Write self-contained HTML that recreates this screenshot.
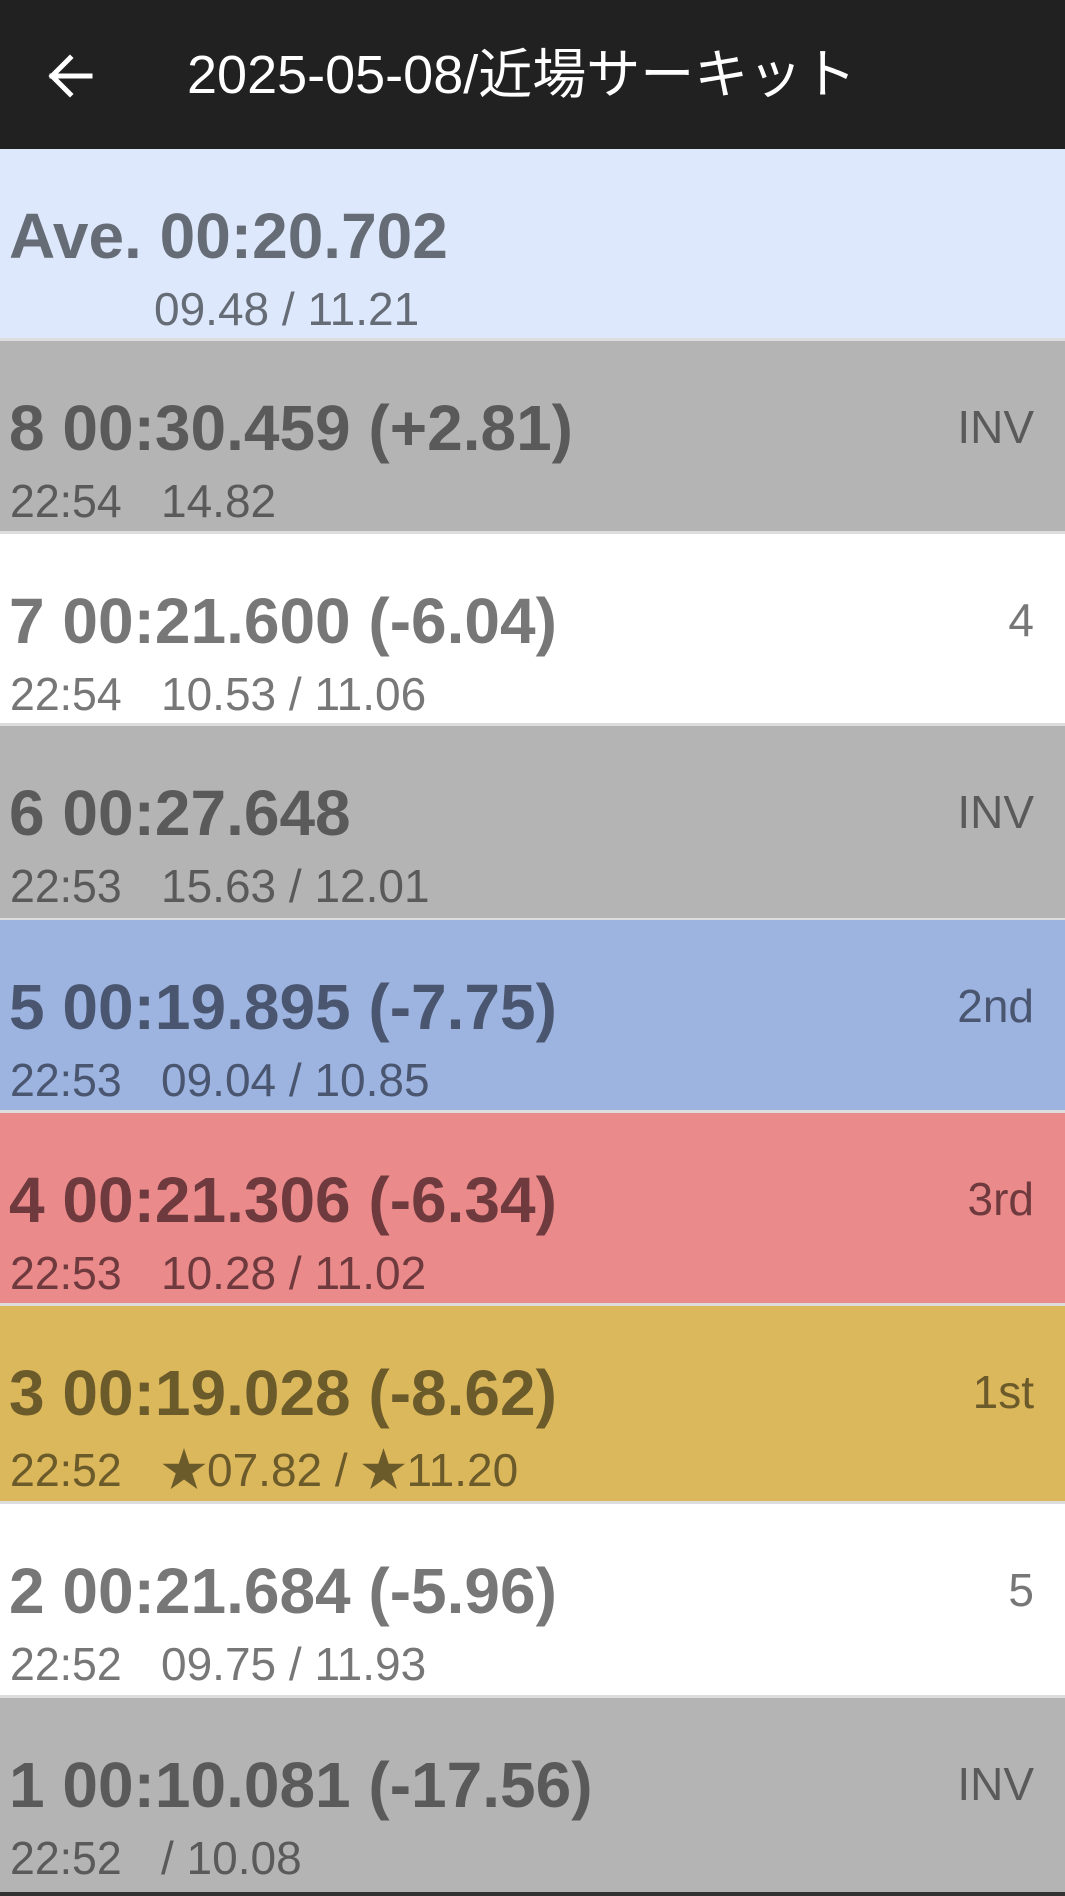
<!DOCTYPE html>
<html><head><meta charset="utf-8">
<style>
body{margin:0;width:1065px;height:1896px;overflow:hidden;background:#ddd;font-family:"Liberation Sans","Noto Sans CJK JP",sans-serif;position:relative}
.hdr{position:absolute;left:0;top:0;width:1065px;height:149px;background:#212121}
.title{position:absolute;left:187px;top:45px;color:#fff;font-size:54px;line-height:60px;white-space:nowrap}
.row{position:absolute;left:0;width:1065px}
.main{position:absolute;left:9px;top:55px;font-size:64px;font-weight:bold;line-height:64px;white-space:nowrap}
.t{position:absolute;left:10px;top:137px;font-size:46px;line-height:46px;white-space:nowrap;transform:scaleX(0.97);transform-origin:left}
.v{position:absolute;left:161px;top:137px;font-size:46px;line-height:46px;white-space:nowrap}
.r{position:absolute;right:31px;top:63px;font-size:46px;line-height:46px;white-space:nowrap}
.bottom{position:absolute;left:0;top:1892px;width:1065px;height:4px;background:#333}
</style></head><body>
<div class="hdr">
<svg style="position:absolute;left:46px;top:54px" width="48" height="44" viewBox="0 0 48 44"><path d="M24 4 L6 22 L24 40 M6 22 L44 22" stroke="#fff" stroke-width="5" fill="none" stroke-linecap="square"/></svg>
<div class="title">2025-05-08/近場サーキット</div>
</div>

<div class="row" style="top:149px;height:189px;background:#dde8fc;color:#666c76">
<div class="main">Ave. 00:20.702</div>
<div class="v" style="left:154px">09.48 / 11.21</div>
</div>

<div class="row" style="top:341px;height:190px;background:#b4b4b4;color:#5a5a5a">
<div class="main">8 00:30.459 (+2.81)</div>
<div class="t">22:54</div>
<div class="v">14.82</div>
<div class="r">INV</div>
</div>

<div class="row" style="top:534px;height:189px;background:#fff;color:#777">
<div class="main">7 00:21.600 (-6.04)</div>
<div class="t">22:54</div>
<div class="v">10.53 / 11.06</div>
<div class="r">4</div>
</div>

<div class="row" style="top:726px;height:192px;background:#b4b4b4;color:#5a5a5a">
<div class="main">6 00:27.648</div>
<div class="t">22:53</div>
<div class="v">15.63 / 12.01</div>
<div class="r">INV</div>
</div>

<div class="row" style="top:920px;height:190px;background:#9db4e0;color:#4a5670">
<div class="main">5 00:19.895 (-7.75)</div>
<div class="t">22:53</div>
<div class="v">09.04 / 10.85</div>
<div class="r">2nd</div>
</div>

<div class="row" style="top:1113px;height:190px;background:#eb8a8a;color:#6e3a3e">
<div class="main">4 00:21.306 (-6.34)</div>
<div class="t">22:53</div>
<div class="v">10.28 / 11.02</div>
<div class="r">3rd</div>
</div>

<div class="row" style="top:1306px;height:195px;background:#dcb85c;color:#6b5a2a">
<div class="main">3 00:19.028 (-8.62)</div>
<div class="t" style="top:141px">22:52</div>
<div class="v" style="top:141px">★07.82 / ★11.20</div>
<div class="r">1st</div>
</div>

<div class="row" style="top:1504px;height:191px;background:#fff;color:#777">
<div class="main">2 00:21.684 (-5.96)</div>
<div class="t">22:52</div>
<div class="v">09.75 / 11.93</div>
<div class="r">5</div>
</div>

<div class="row" style="top:1698px;height:194px;background:#b4b4b4;color:#5a5a5a">
<div class="main">1 00:10.081 (-17.56)</div>
<div class="t">22:52</div>
<div class="v">/ 10.08</div>
<div class="r">INV</div>
</div>
<div class="bottom"></div>
</body></html>
